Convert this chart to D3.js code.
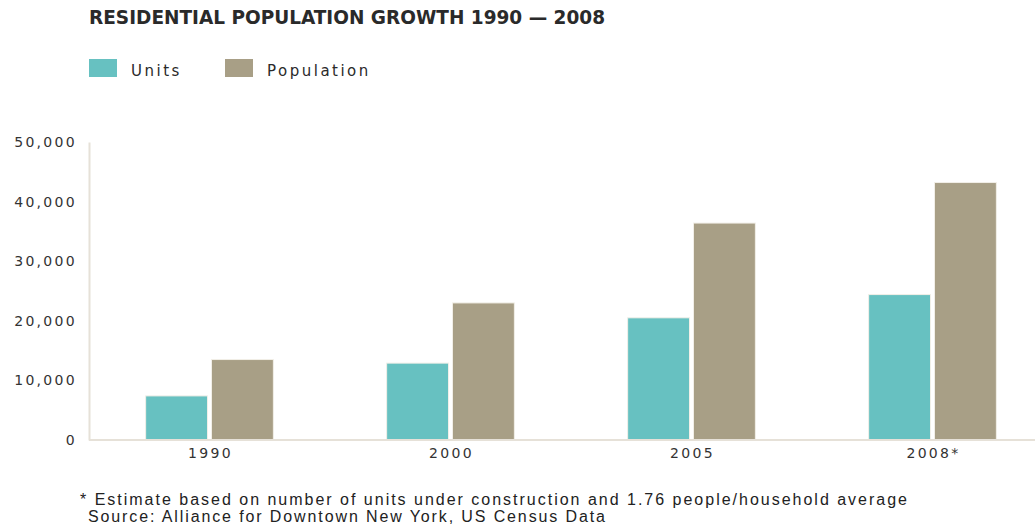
<!DOCTYPE html>
<html>
<head>
<meta charset="utf-8">
<script src="https://cdn.jsdelivr.net/npm/d3@7"></script>
<style>
  body { margin: 0; background: #fff; }
  svg { display: block; }
</style>
</head>
<body>
<svg id="chart" width="1035" height="525"></svg>
<script>
// data
let years = ["1990", "2000", "2005", "2008*"]
let series = ["Units", "Population"]
let units = [7400, 12900, 20500, 24400]
let population = [13500, 23000, 36400, 43200]
let yTicks = [0, 10000, 20000, 30000, 40000, 50000]

let colors = { "Units": "#67c1c1", "Population": "#a89f86" }

let rows = years.map((y, i) => ({ year: y, Units: units[i], Population: population[i] }))

let svg = d3.select("#chart")

let margin = { left: 89, top: 142, bottom: 440 }

let x0 = d3.scaleBand()
  .domain(years)
  .range([margin.left, 1053])
  .paddingInner(0.47)
  .paddingOuter(0.235)

let x1 = d3.scaleBand()
  .domain(series)
  .range([0, x0.bandwidth()])
  .paddingInner(0.06)

let y = d3.scaleLinear()
  .domain([0, 50000])
  .range([margin.bottom, margin.top])

// title
svg.append("text")
  .attr("x", 89)
  .attr("y", 24)
  .style("font-family", "'DejaVu Sans Condensed', 'DejaVu Sans'")
  .style("font-stretch", "condensed")
  .style("font-weight", "bold")
  .style("font-size", "19px")
  .style("fill", "#2a2a2a")
  .attr("textLength", 516)
  .attr("lengthAdjust", "spacingAndGlyphs")
  .text("RESIDENTIAL POPULATION GROWTH 1990 — 2008")

// legend
let legendX = [89, 225]
let legend = svg.append("g")
  .selectAll("g")
  .data(series)
  .join("g")
  .attr("transform", (d, i) => `translate(${legendX[i]},59)`)

legend.append("rect")
  .attr("width", 28)
  .attr("height", 18)
  .attr("fill", d => colors[d])

legend.append("text")
  .attr("x", 42)
  .attr("y", 17)
  .style("font-family", "'DejaVu Sans', sans-serif")
  .style("font-size", "15px")
  .style("letter-spacing", "2.5px")
  .style("fill", "#2a2a2a")
  .text(d => d)

// y axis
let yAxis = svg.append("g")
  .attr("transform", `translate(${margin.left},0)`)
  .call(d3.axisLeft(y).tickValues(yTicks).tickSize(0).tickPadding(12).tickFormat(d3.format(",")))

yAxis.select(".domain")
  .attr("stroke", "#e6e1d8")
  .attr("stroke-width", 2)

yAxis.selectAll("text")
  .style("font-family", "'DejaVu Sans', sans-serif")
  .style("font-size", "14px")
  .style("letter-spacing", "2.3px")
  .style("fill", "#333")

// bars
let groups = svg.append("g")
  .selectAll("g")
  .data(rows)
  .join("g")
  .attr("transform", d => `translate(${x0(d.year)},0)`)

groups.selectAll("rect")
  .data(d => series.map(s => ({ key: s, value: d[s] })))
  .join("rect")
  .attr("x", d => x1(d.key))
  .attr("y", d => y(d.value))
  .attr("width", x1.bandwidth())
  .attr("height", d => y(0) - y(d.value))
  .attr("fill", d => colors[d.key])
  .attr("stroke", "#f2efe8")
  .attr("stroke-width", 1)

// x baseline
svg.append("line")
  .attr("x1", margin.left)
  .attr("x2", 1035)
  .attr("y1", y(0))
  .attr("y2", y(0))
  .attr("stroke", "#e6e1d8")
  .attr("stroke-width", 2)

// x labels
svg.append("g")
  .selectAll("text")
  .data(years)
  .join("text")
  .attr("x", d => x0(d) + x0.bandwidth() / 2 + 1)
  .attr("y", 458)
  .attr("text-anchor", "middle")
  .style("font-family", "'DejaVu Sans', sans-serif")
  .style("font-size", "14px")
  .style("letter-spacing", "2.3px")
  .style("fill", "#333")
  .text(d => d)

// footnotes
let notes = [
  "* Estimate based on number of units under construction and 1.76 people/household average",
  "Source: Alliance for Downtown New York, US Census Data"
]
let noteX = [80, 88]
let noteLen = [827, 517]
svg.append("g")
  .selectAll("text")
  .data(notes)
  .join("text")
  .attr("x", (d, i) => noteX[i])
  .attr("y", (d, i) => 505 + i * 17)
  .attr("textLength", (d, i) => noteLen[i])
  .attr("lengthAdjust", "spacing")
  .style("font-family", "'Liberation Sans', Arial, sans-serif")
  .style("font-size", "16px")
  .style("fill", "#222")
  .text(d => d)
</script>
</body>
</html>
